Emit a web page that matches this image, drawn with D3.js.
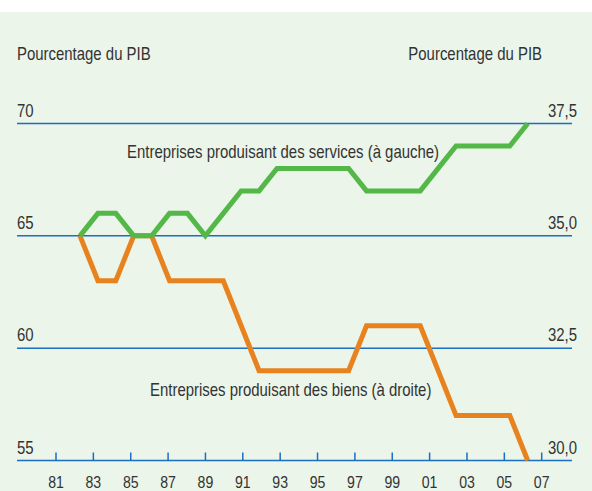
<!DOCTYPE html>
<html>
<head>
<meta charset="utf-8">
<script src="https://cdn.jsdelivr.net/npm/d3@7"></script>
<style>
    body { margin: 0; background: #fff; }
    #chart text { font-family: "Liberation Sans", Arial, sans-serif; fill: #333; }
</style>
</head>
<body>
<div id="chart"></div>
<script>
let width = 592;
let height = 491;

// Données
let years = d3.range(1981, 2007);
let services = [65, 66, 66, 65, 65, 66, 66, 65, 66, 67, 67, 68, 68, 68, 68, 68, 67, 67, 67, 67, 68, 69, 69, 69, 69, 70];
let biens = [35, 34, 34, 35, 35, 34, 34, 34, 34, 33, 32, 32, 32, 32, 32, 32, 33, 33, 33, 33, 32, 31, 31, 31, 31, 30];
let tickYears = d3.range(1981, 2008, 2);
let leftTicks = [55, 60, 65, 70];
let rightTicks = [30, 32.5, 35, 37.5];
let unitLabel = 'Pourcentage du PIB';
let labelServices = 'Entreprises produisant des services (à gauche)';
let labelBiens = 'Entreprises produisant des biens (à droite)';

// police étroite simulée
let narrow = 0.83;

initChart();

function initChart() {
    let svg = d3.select('#chart').append('svg')
        .attr('width', width)
        .attr('height', height);

    // Fond
    svg.append('rect')
        .attr('x', 0).attr('y', 12)
        .attr('width', width).attr('height', height - 12)
        .attr('fill', '#ebf5e9');

    const xTicks = d3.scaleLinear().domain([1981, 2007]).range([56, 541.7]);
    const x = d3.scalePoint().domain(years).range([80, 527.7]);
    const yLeft = d3.scaleLinear().domain([55, 70]).range([460.5, 123.5]);
    const yRight = d3.scaleLinear().domain([30, 37.5]).range([460.5, 123.5]);

    const frFormat = d3.formatLocale({ decimal: ',', thousands: ' ', grouping: [3], currency: ['', ' €'] }).format('.1f');

    // Lignes horizontales
    svg.append('g')
        .selectAll('line')
        .data(leftTicks)
        .enter()
        .append('line')
        .attr('x1', 17).attr('x2', 572)
        .attr('y1', d => yLeft(d)).attr('y2', d => yLeft(d))
        .attr('stroke', '#1b6ec2')
        .attr('stroke-width', 1.5);

    // Axe des années
    svg.append('g')
        .selectAll('line')
        .data(tickYears)
        .enter()
        .append('line')
        .attr('x1', d => xTicks(d)).attr('x2', d => xTicks(d))
        .attr('y1', yLeft(55)).attr('y2', yLeft(55) - 8)
        .attr('stroke', '#1b6ec2')
        .attr('stroke-width', 1.5);

    svg.append('g')
        .selectAll('text')
        .data(tickYears)
        .enter()
        .append('text')
        .attr('transform', d => `translate(${xTicks(d)},487.5) scale(${narrow},1)`)
        .attr('text-anchor', 'middle')
        .style('font-size', '17px')
        .text(d => String(d).slice(2));

    // Étiquettes gauche / droite
    svg.append('g')
        .selectAll('text')
        .data(leftTicks)
        .enter()
        .append('text')
        .attr('transform', d => `translate(17,${yLeft(d) - 7}) scale(${narrow},1)`)
        .style('font-size', '18px')
        .text(d => d);

    svg.append('g')
        .selectAll('text')
        .data(rightTicks)
        .enter()
        .append('text')
        .attr('transform', d => `translate(577,${yRight(d) - 7}) scale(${narrow},1)`)
        .attr('text-anchor', 'end')
        .style('font-size', '18px')
        .text(d => frFormat(d));

    addText(svg, unitLabel, 17, 60, 'start');
    addText(svg, unitLabel, 542, 60, 'end');

    // Courbes
    let lineLeft = d3.line().x((d, i) => x(years[i])).y(d => yLeft(d));
    let lineRight = d3.line().x((d, i) => x(years[i])).y(d => yRight(d));

    svg.append('path')
        .datum(biens)
        .attr('d', lineRight)
        .attr('fill', 'none')
        .attr('stroke', '#e8821e')
        .attr('stroke-width', 5);

    svg.append('path')
        .datum(services)
        .attr('d', lineLeft)
        .attr('fill', 'none')
        .attr('stroke', '#53b848')
        .attr('stroke-width', 5);

    addText(svg, labelServices, 127, 158, 'start');
    addText(svg, labelBiens, 150, 396, 'start');
}

function addText(svg, txt, x, y, anchor) {
    svg.append('text')
        .attr('transform', `translate(${x},${y}) scale(${narrow},1)`)
        .attr('text-anchor', anchor)
        .style('font-size', '18px')
        .text(txt);
}
</script>
</body>
</html>
